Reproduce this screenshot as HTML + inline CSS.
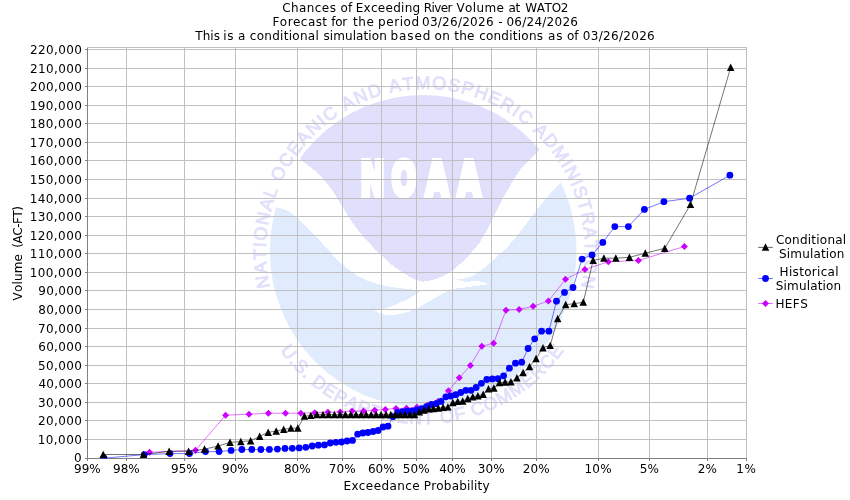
<!DOCTYPE html>
<html lang="en"><head><meta charset="utf-8"><title>Chances of Exceeding River Volume at WATO2</title>
<style>html,body{margin:0;padding:0;background:#fff}svg{display:block}text{font-family:"DejaVu Sans","Liberation Sans",sans-serif;font-kerning:none}</style></head><body>
<svg width="850" height="500" viewBox="0 0 850 500">
<rect width="850" height="500" fill="#fff"/>
<g id="watermark">
<clipPath id="disc"><ellipse cx="423.2" cy="251.0" rx="153.3" ry="156.0" shape-rendering="crispEdges"/></clipPath>
<g clip-path="url(#disc)" shape-rendering="crispEdges">
<path d="M260,206L420,206L420,181L590,181L590,420L260,420Z" fill="#e0ecfe"/>
<path d="M262,203.5C264.2,204.1 270.7,205.8 275.0,207.0C279.3,208.2 284.2,209.0 288.0,211.0C291.8,213.0 294.0,215.5 298.0,219.0C302.0,222.5 308.0,228.0 312.0,232.0C316.0,236.0 318.7,239.3 322.0,243.0C325.3,246.7 328.7,250.5 332.0,254.0C335.3,257.5 338.7,261.0 342.0,264.0C345.3,267.0 348.7,269.7 352.0,272.0C355.3,274.3 358.3,276.2 362.0,278.0C365.7,279.8 369.0,281.5 374.0,283.0C379.0,284.5 385.7,285.9 392.0,287.0C398.3,288.1 407.2,288.8 412.0,289.5C416.8,290.2 419.5,290.8 421.0,291.0C419.0,292.2 414.2,295.8 409.0,298.4C403.8,301.0 395.8,304.6 390.0,306.8C384.2,309.0 377.0,310.6 374.4,311.3C377.0,311.9 384.2,315.1 390.0,315.2C395.8,315.2 403.0,313.6 409.0,311.6C415.0,309.6 420.4,306.2 426.0,303.2C431.6,300.2 438.4,295.9 442.8,293.6C447.2,291.3 448.8,290.2 452.4,289.2C456.0,288.2 458.4,288.4 464.4,287.6C470.4,286.8 484.4,284.8 488.4,284.2C486.8,283.7 482.8,281.6 478.8,281.2C474.8,280.8 468.8,282.1 464.4,281.6C460.0,281.1 454.4,278.6 452.4,278.0C453.8,278.2 457.8,279.3 461.0,279.0C464.2,278.7 467.8,278.2 471.6,276.4C475.4,274.6 480.5,270.6 483.6,268.4C486.7,266.2 487.3,265.4 490.0,263.0C492.7,260.6 496.7,257.2 500.0,254.0C503.3,250.8 506.7,247.7 510.0,244.0C513.3,240.3 516.7,236.2 520.0,232.0C523.3,227.8 526.7,223.3 530.0,219.0C533.3,214.7 536.7,210.2 540.0,206.0C543.3,201.8 546.4,198.0 550.0,194.0C553.6,190.0 557.6,186.2 561.6,182.0C565.6,177.8 571.9,171.2 574.0,169.0L600,80L250,80Z" fill="#fff"/>
<path d="M548,140C546.1,142.2 541.2,148.0 536.5,153.0C531.8,158.0 524.4,164.5 520.0,170.0C515.6,175.5 513.3,180.3 510.0,186.0C506.7,191.7 503.3,197.7 500.0,204.0C496.7,210.3 493.3,217.7 490.0,224.0C486.7,230.3 483.3,237.0 480.0,242.0C476.7,247.0 473.3,250.3 470.0,254.0C466.7,257.7 463.0,261.2 460.0,264.0C457.0,266.8 454.8,269.0 452.0,271.0C449.2,273.0 446.3,274.5 443.0,276.0C439.7,277.5 435.5,279.1 432.0,280.0C428.5,280.9 425.3,281.8 422.0,281.5C418.7,281.2 415.3,279.6 412.0,278.0C408.7,276.4 405.3,274.2 402.0,272.0C398.7,269.8 395.3,267.7 392.0,265.0C388.7,262.3 385.3,259.2 382.0,256.0C378.7,252.8 375.3,249.5 372.0,246.0C368.7,242.5 365.3,239.0 362.0,235.0C358.7,231.0 355.3,226.8 352.0,222.0C348.7,217.2 345.3,211.3 342.0,206.0C338.7,200.7 335.9,195.3 332.0,190.0C328.1,184.7 324.1,179.3 318.5,174.0C312.9,168.7 303.9,162.2 298.6,158.0C293.4,153.8 288.9,150.5 287.0,149.0L270,80L570,80Z" fill="#e0e0fc"/>
</g>
<text transform="translate(0,194.9) scale(0.61,1)" x="610.8 662.3 716.4 768.9" text-anchor="middle" font-weight="bold" font-size="47" fill="#fff" stroke="#fff" stroke-width="5" stroke-linejoin="miter" vector-effect="non-scaling-stroke">NOAA</text>
<defs><path id="arcTop" d="M425.5,413.5A159.5,162.3 0 1 1 425.5,88.89999999999998A159.5,162.3 0 1 1 425.5,413.5"/>
<path id="arcBot" d="M422.0,77.80000000000001A173.2,173.2 0 1 0 422.0,424.2A173.2,173.2 0 1 0 422.0,77.80000000000001"/></defs>
<text font-family="Liberation Sans, sans-serif" font-size="18" fill="#e0e0fc" stroke="#e0e0fc" stroke-width="0.85" text-anchor="middle" style="font-family:'Liberation Sans',sans-serif"><textPath href="#arcTop" startOffset="50%" textLength="578" lengthAdjust="spacing">NATIONAL OCEANIC AND ATMOSPHERIC ADMINISTRATION</textPath></text>
<text font-family="Liberation Sans, sans-serif" font-size="18" fill="#e0e0fc" stroke="#e0e0fc" stroke-width="0.85" text-anchor="middle" style="font-family:'Liberation Sans',sans-serif"><textPath href="#arcBot" startOffset="50%" textLength="332" lengthAdjust="spacing">U.S. DEPARTMENT OF COMMERCE</textPath></text>
</g>
<g stroke="#c0c0c0" stroke-width="1" shape-rendering="crispEdges">
<line x1="87.5" x2="746.5" y1="458.5" y2="458.5"/>
<line x1="87.5" x2="746.5" y1="439.5" y2="439.5"/>
<line x1="87.5" x2="746.5" y1="420.5" y2="420.5"/>
<line x1="87.5" x2="746.5" y1="402.5" y2="402.5"/>
<line x1="87.5" x2="746.5" y1="383.5" y2="383.5"/>
<line x1="87.5" x2="746.5" y1="365.5" y2="365.5"/>
<line x1="87.5" x2="746.5" y1="346.5" y2="346.5"/>
<line x1="87.5" x2="746.5" y1="328.5" y2="328.5"/>
<line x1="87.5" x2="746.5" y1="309.5" y2="309.5"/>
<line x1="87.5" x2="746.5" y1="290.5" y2="290.5"/>
<line x1="87.5" x2="746.5" y1="272.5" y2="272.5"/>
<line x1="87.5" x2="746.5" y1="253.5" y2="253.5"/>
<line x1="87.5" x2="746.5" y1="235.5" y2="235.5"/>
<line x1="87.5" x2="746.5" y1="216.5" y2="216.5"/>
<line x1="87.5" x2="746.5" y1="198.5" y2="198.5"/>
<line x1="87.5" x2="746.5" y1="179.5" y2="179.5"/>
<line x1="87.5" x2="746.5" y1="160.5" y2="160.5"/>
<line x1="87.5" x2="746.5" y1="142.5" y2="142.5"/>
<line x1="87.5" x2="746.5" y1="123.5" y2="123.5"/>
<line x1="87.5" x2="746.5" y1="105.5" y2="105.5"/>
<line x1="87.5" x2="746.5" y1="86.5" y2="86.5"/>
<line x1="87.5" x2="746.5" y1="68.5" y2="68.5"/>
<line x1="87.5" x2="746.5" y1="49.5" y2="49.5"/>
<line x1="87.5" x2="87.5" y1="47.5" y2="458.5"/>
<line x1="126.5" x2="126.5" y1="47.5" y2="458.5"/>
<line x1="184.5" x2="184.5" y1="47.5" y2="458.5"/>
<line x1="235.5" x2="235.5" y1="47.5" y2="458.5"/>
<line x1="297.5" x2="297.5" y1="47.5" y2="458.5"/>
<line x1="342.5" x2="342.5" y1="47.5" y2="458.5"/>
<line x1="381.5" x2="381.5" y1="47.5" y2="458.5"/>
<line x1="416.5" x2="416.5" y1="47.5" y2="458.5"/>
<line x1="452.5" x2="452.5" y1="47.5" y2="458.5"/>
<line x1="491.5" x2="491.5" y1="47.5" y2="458.5"/>
<line x1="536.5" x2="536.5" y1="47.5" y2="458.5"/>
<line x1="598.5" x2="598.5" y1="47.5" y2="458.5"/>
<line x1="649.5" x2="649.5" y1="47.5" y2="458.5"/>
<line x1="707.5" x2="707.5" y1="47.5" y2="458.5"/>
<line x1="746.5" x2="746.5" y1="47.5" y2="458.5"/>
</g>
<rect x="87.5" y="47.5" width="659.0" height="411.0" fill="none" stroke="#c0c0c0" stroke-width="1" shape-rendering="crispEdges"/>
<g stroke="#808080" stroke-width="1" shape-rendering="crispEdges">
<line x1="87.5" x2="87.5" y1="47.5" y2="458.5"/><line x1="87.5" x2="746.5" y1="458.5" y2="458.5"/>
<line x1="85.0" x2="87.5" y1="458.5" y2="458.5"/>
<line x1="85.0" x2="87.5" y1="439.5" y2="439.5"/>
<line x1="85.0" x2="87.5" y1="420.5" y2="420.5"/>
<line x1="85.0" x2="87.5" y1="402.5" y2="402.5"/>
<line x1="85.0" x2="87.5" y1="383.5" y2="383.5"/>
<line x1="85.0" x2="87.5" y1="365.5" y2="365.5"/>
<line x1="85.0" x2="87.5" y1="346.5" y2="346.5"/>
<line x1="85.0" x2="87.5" y1="328.5" y2="328.5"/>
<line x1="85.0" x2="87.5" y1="309.5" y2="309.5"/>
<line x1="85.0" x2="87.5" y1="290.5" y2="290.5"/>
<line x1="85.0" x2="87.5" y1="272.5" y2="272.5"/>
<line x1="85.0" x2="87.5" y1="253.5" y2="253.5"/>
<line x1="85.0" x2="87.5" y1="235.5" y2="235.5"/>
<line x1="85.0" x2="87.5" y1="216.5" y2="216.5"/>
<line x1="85.0" x2="87.5" y1="198.5" y2="198.5"/>
<line x1="85.0" x2="87.5" y1="179.5" y2="179.5"/>
<line x1="85.0" x2="87.5" y1="160.5" y2="160.5"/>
<line x1="85.0" x2="87.5" y1="142.5" y2="142.5"/>
<line x1="85.0" x2="87.5" y1="123.5" y2="123.5"/>
<line x1="85.0" x2="87.5" y1="105.5" y2="105.5"/>
<line x1="85.0" x2="87.5" y1="86.5" y2="86.5"/>
<line x1="85.0" x2="87.5" y1="68.5" y2="68.5"/>
<line x1="85.0" x2="87.5" y1="49.5" y2="49.5"/>
<line x1="87.5" x2="87.5" y1="458.5" y2="460.5"/>
<line x1="126.5" x2="126.5" y1="458.5" y2="460.5"/>
<line x1="184.5" x2="184.5" y1="458.5" y2="460.5"/>
<line x1="235.5" x2="235.5" y1="458.5" y2="460.5"/>
<line x1="297.5" x2="297.5" y1="458.5" y2="460.5"/>
<line x1="342.5" x2="342.5" y1="458.5" y2="460.5"/>
<line x1="381.5" x2="381.5" y1="458.5" y2="460.5"/>
<line x1="416.5" x2="416.5" y1="458.5" y2="460.5"/>
<line x1="452.5" x2="452.5" y1="458.5" y2="460.5"/>
<line x1="491.5" x2="491.5" y1="458.5" y2="460.5"/>
<line x1="536.5" x2="536.5" y1="458.5" y2="460.5"/>
<line x1="598.5" x2="598.5" y1="458.5" y2="460.5"/>
<line x1="649.5" x2="649.5" y1="458.5" y2="460.5"/>
<line x1="707.5" x2="707.5" y1="458.5" y2="460.5"/>
<line x1="746.5" x2="746.5" y1="458.5" y2="460.5"/>
</g>
<g font-size="12" fill="#000">
<text x="73.91" y="462.3" letter-spacing="0.453">0</text>
<text x="37.68" y="443.8" letter-spacing="0.445">10,000</text>
<text x="38.12" y="424.8" letter-spacing="0.358">20,000</text>
<text x="38.09" y="406.8" letter-spacing="0.365">30,000</text>
<text x="38.41" y="387.8" letter-spacing="0.299">40,000</text>
<text x="38.07" y="369.8" letter-spacing="0.367">50,000</text>
<text x="38.16" y="350.8" letter-spacing="0.349">60,000</text>
<text x="38.02" y="332.8" letter-spacing="0.379">70,000</text>
<text x="38.19" y="313.8" letter-spacing="0.345">80,000</text>
<text x="38.24" y="294.8" letter-spacing="0.333">90,000</text>
<text x="29.68" y="276.8" letter-spacing="0.432">100,000</text>
<text x="29.68" y="257.8" letter-spacing="0.432">110,000</text>
<text x="29.68" y="239.8" letter-spacing="0.432">120,000</text>
<text x="29.68" y="220.8" letter-spacing="0.432">130,000</text>
<text x="29.68" y="202.8" letter-spacing="0.432">140,000</text>
<text x="29.68" y="183.8" letter-spacing="0.432">150,000</text>
<text x="29.68" y="164.8" letter-spacing="0.432">160,000</text>
<text x="29.68" y="146.8" letter-spacing="0.432">170,000</text>
<text x="29.68" y="127.8" letter-spacing="0.432">180,000</text>
<text x="29.68" y="109.8" letter-spacing="0.432">190,000</text>
<text x="30.12" y="90.8" letter-spacing="0.359">200,000</text>
<text x="30.12" y="72.8" letter-spacing="0.359">210,000</text>
<text x="30.12" y="53.8" letter-spacing="0.359">220,000</text>
<text x="73.99" y="473.1" letter-spacing="0.023">99%</text>
<text x="112.99" y="473.1" letter-spacing="0.023">98%</text>
<text x="170.99" y="473.1" letter-spacing="0.023">95%</text>
<text x="221.99" y="473.1" letter-spacing="0.023">90%</text>
<text x="283.94" y="473.1" letter-spacing="0.052">80%</text>
<text x="328.77" y="473.1" letter-spacing="0.137">70%</text>
<text x="367.91" y="473.1" letter-spacing="0.064">60%</text>
<text x="402.82" y="473.1" letter-spacing="0.108">50%</text>
<text x="439.16" y="473.1" letter-spacing="-0.062">40%</text>
<text x="477.84" y="473.1" letter-spacing="0.102">30%</text>
<text x="522.87" y="473.1" letter-spacing="0.085">20%</text>
<text x="584.43" y="473.1" letter-spacing="0.304">10%</text>
<text x="639.67" y="473.1" letter-spacing="0.151">5%</text>
<text x="697.72" y="473.1" letter-spacing="0.104">2%</text>
<text x="736.28" y="473.1" letter-spacing="0.543">1%</text>
<text y="11.6"><tspan x="282.13" letter-spacing="0.431">Chances</tspan> <tspan x="340.54" letter-spacing="0.067">of</tspan> <tspan x="355.72" letter-spacing="0.281">Exceeding</tspan> <tspan x="423.72" letter-spacing="-0.603">River</tspan> <tspan x="456.51" letter-spacing="0.354">Volume</tspan> <tspan x="508.38" letter-spacing="-0.151">at</tspan> <tspan x="525.20" letter-spacing="-0.321">WATO2</tspan></text>
<text y="25.6"><tspan x="272.52" letter-spacing="0.442">Forecast</tspan> <tspan x="331.32" letter-spacing="-0.312">for</tspan> <tspan x="353.08" letter-spacing="0.534">the</tspan> <tspan x="378.11" letter-spacing="0.551">period</tspan> <tspan x="422.01" letter-spacing="0.265">03/26/2026</tspan> <tspan x="498.31" letter-spacing="1.142">-</tspan> <tspan x="506.41" letter-spacing="0.265">06/24/2026</tspan></text>
<text y="39.6"><tspan x="195.34" letter-spacing="0.010">This</tspan> <tspan x="223.27" letter-spacing="0.631">is</tspan> <tspan x="238.08" letter-spacing="0.857">a</tspan> <tspan x="249.84" letter-spacing="0.272">conditional</tspan> <tspan x="323.45" letter-spacing="0.091">simulation</tspan> <tspan x="390.61" letter-spacing="0.864">based</tspan> <tspan x="434.44" letter-spacing="0.434">on</tspan> <tspan x="454.28" letter-spacing="0.234">the</tspan> <tspan x="479.14" letter-spacing="0.235">conditions</tspan> <tspan x="548.08" letter-spacing="0.701">as</tspan> <tspan x="567.04" letter-spacing="-0.033">of</tspan> <tspan x="582.81" letter-spacing="0.309">03/26/2026</tspan></text>
<text y="489.6"><tspan x="343.42" letter-spacing="0.390">Exceedance</tspan> <tspan x="423.82" letter-spacing="0.183">Probability</tspan></text>
<text transform="rotate(-90)" y="21.9"><tspan x="-300.39" letter-spacing="0.154">Volume</tspan> <tspan x="-247.63" letter-spacing="-0.475">(AC-FT)</tspan></text>
</g>
<clipPath id="pc"><rect x="87.5" y="47.5" width="659.0" height="411.0"/></clipPath>
<g clip-path="url(#pc)">
<polyline fill="none" stroke="#cc00ff" stroke-width="0.55" points="149.5,452.3 195.5,450.2 225.6,415.2 249.0,414.2 268.4,413.2 285.5,413.2 300.8,413.2 314.8,412.8 327.9,412.2 340.3,412.1 352.1,411.1 363.5,411.1 374.6,410.2 385.4,409.4 396.0,408.4 406.5,408.3 416.9,407.2 427.4,405.3 437.9,401.5 448.5,390.8 459.3,377.8 470.4,365.4 481.8,346.2 493.6,343.2 506.0,310.2 519.1,309.5 533.1,306.3 548.4,301.0 565.5,279.3 584.9,269.4 608.3,261.8 638.4,260.5 684.4,246.5"/>
<g fill="#cc00ff"><path d="M149.5,448.8L153.0,452.3L149.5,455.8L146.0,452.3Z"/><path d="M195.5,446.7L199.0,450.2L195.5,453.7L192.0,450.2Z"/><path d="M225.6,411.7L229.1,415.2L225.6,418.7L222.1,415.2Z"/><path d="M249.0,410.7L252.5,414.2L249.0,417.7L245.5,414.2Z"/><path d="M268.4,409.7L271.9,413.2L268.4,416.7L264.9,413.2Z"/><path d="M285.5,409.7L289.0,413.2L285.5,416.7L282.0,413.2Z"/><path d="M300.8,409.7L304.3,413.2L300.8,416.7L297.3,413.2Z"/><path d="M314.8,409.3L318.3,412.8L314.8,416.3L311.3,412.8Z"/><path d="M327.9,408.7L331.4,412.2L327.9,415.7L324.4,412.2Z"/><path d="M340.3,408.6L343.8,412.1L340.3,415.6L336.8,412.1Z"/><path d="M352.1,407.6L355.6,411.1L352.1,414.6L348.6,411.1Z"/><path d="M363.5,407.6L367.0,411.1L363.5,414.6L360.0,411.1Z"/><path d="M374.6,406.7L378.1,410.2L374.6,413.7L371.1,410.2Z"/><path d="M385.4,405.9L388.9,409.4L385.4,412.9L381.9,409.4Z"/><path d="M396.0,404.9L399.5,408.4L396.0,411.9L392.5,408.4Z"/><path d="M406.5,404.8L410.0,408.3L406.5,411.8L403.0,408.3Z"/><path d="M416.9,403.7L420.4,407.2L416.9,410.7L413.4,407.2Z"/><path d="M427.4,401.8L430.9,405.3L427.4,408.8L423.9,405.3Z"/><path d="M437.9,398.0L441.4,401.5L437.9,405.0L434.4,401.5Z"/><path d="M448.5,387.3L452.0,390.8L448.5,394.3L445.0,390.8Z"/><path d="M459.3,374.3L462.8,377.8L459.3,381.3L455.8,377.8Z"/><path d="M470.4,361.9L473.9,365.4L470.4,368.9L466.9,365.4Z"/><path d="M481.8,342.7L485.3,346.2L481.8,349.7L478.3,346.2Z"/><path d="M493.6,339.7L497.1,343.2L493.6,346.7L490.1,343.2Z"/><path d="M506.0,306.7L509.5,310.2L506.0,313.7L502.5,310.2Z"/><path d="M519.1,306.0L522.6,309.5L519.1,313.0L515.6,309.5Z"/><path d="M533.1,302.8L536.6,306.3L533.1,309.8L529.6,306.3Z"/><path d="M548.4,297.5L551.9,301.0L548.4,304.5L544.9,301.0Z"/><path d="M565.5,275.8L569.0,279.3L565.5,282.8L562.0,279.3Z"/><path d="M584.9,265.9L588.4,269.4L584.9,272.9L581.4,269.4Z"/><path d="M608.3,258.3L611.8,261.8L608.3,265.3L604.8,261.8Z"/><path d="M638.4,257.0L641.9,260.5L638.4,264.0L634.9,260.5Z"/><path d="M684.4,243.0L687.9,246.5L684.4,250.0L680.9,246.5Z"/></g>
<polyline fill="none" stroke="#0000ff" stroke-width="0.55" points="104.0,458.2 144.3,454.6 170.0,453.6 189.5,453.5 205.5,451.6 219.1,451.6 231.1,450.4 241.9,449.5 251.8,449.5 260.9,449.5 269.4,449.4 277.4,449.1 285.0,448.4 292.3,448.3 299.2,447.9 305.8,447.3 312.2,446.0 318.4,445.2 324.5,444.9 330.3,443.0 336.0,442.3 341.6,442.0 347.1,441.0 352.5,440.4 357.7,434.2 362.9,433.0 368.0,432.5 373.1,431.5 378.1,430.5 383.1,427.0 388.0,426.2 392.9,416.7 397.7,412.3 402.5,411.6 407.4,411.2 412.2,410.8 416.9,410.0 421.7,408.6 426.5,406.6 431.4,404.5 436.2,403.7 441.0,401.4 445.9,396.8 450.8,396.0 455.8,394.7 460.8,392.5 465.9,390.3 471.0,390.3 476.2,387.5 481.4,383.3 486.8,379.5 492.3,378.9 497.9,378.7 503.6,375.8 509.4,368.2 515.5,363.2 521.7,362.2 528.1,348.5 534.7,338.8 541.6,331.2 548.9,331.2 556.5,301.2 564.5,292.4 573.0,287.5 582.1,259.1 592.0,255.0 602.8,242.4 614.8,226.6 628.4,226.6 644.4,209.4 663.9,201.7 689.6,198.2 729.9,175.2"/>
<g fill="#0000ff"><circle cx="104.0" cy="458.2" r="3.4"/><circle cx="144.3" cy="454.6" r="3.4"/><circle cx="170.0" cy="453.6" r="3.4"/><circle cx="189.5" cy="453.5" r="3.4"/><circle cx="205.5" cy="451.6" r="3.4"/><circle cx="219.1" cy="451.6" r="3.4"/><circle cx="231.1" cy="450.4" r="3.4"/><circle cx="241.9" cy="449.5" r="3.4"/><circle cx="251.8" cy="449.5" r="3.4"/><circle cx="260.9" cy="449.5" r="3.4"/><circle cx="269.4" cy="449.4" r="3.4"/><circle cx="277.4" cy="449.1" r="3.4"/><circle cx="285.0" cy="448.4" r="3.4"/><circle cx="292.3" cy="448.3" r="3.4"/><circle cx="299.2" cy="447.9" r="3.4"/><circle cx="305.8" cy="447.3" r="3.4"/><circle cx="312.2" cy="446.0" r="3.4"/><circle cx="318.4" cy="445.2" r="3.4"/><circle cx="324.5" cy="444.9" r="3.4"/><circle cx="330.3" cy="443.0" r="3.4"/><circle cx="336.0" cy="442.3" r="3.4"/><circle cx="341.6" cy="442.0" r="3.4"/><circle cx="347.1" cy="441.0" r="3.4"/><circle cx="352.5" cy="440.4" r="3.4"/><circle cx="357.7" cy="434.2" r="3.4"/><circle cx="362.9" cy="433.0" r="3.4"/><circle cx="368.0" cy="432.5" r="3.4"/><circle cx="373.1" cy="431.5" r="3.4"/><circle cx="378.1" cy="430.5" r="3.4"/><circle cx="383.1" cy="427.0" r="3.4"/><circle cx="388.0" cy="426.2" r="3.4"/><circle cx="392.9" cy="416.7" r="3.4"/><circle cx="397.7" cy="412.3" r="3.4"/><circle cx="402.5" cy="411.6" r="3.4"/><circle cx="407.4" cy="411.2" r="3.4"/><circle cx="412.2" cy="410.8" r="3.4"/><circle cx="416.9" cy="410.0" r="3.4"/><circle cx="421.7" cy="408.6" r="3.4"/><circle cx="426.5" cy="406.6" r="3.4"/><circle cx="431.4" cy="404.5" r="3.4"/><circle cx="436.2" cy="403.7" r="3.4"/><circle cx="441.0" cy="401.4" r="3.4"/><circle cx="445.9" cy="396.8" r="3.4"/><circle cx="450.8" cy="396.0" r="3.4"/><circle cx="455.8" cy="394.7" r="3.4"/><circle cx="460.8" cy="392.5" r="3.4"/><circle cx="465.9" cy="390.3" r="3.4"/><circle cx="471.0" cy="390.3" r="3.4"/><circle cx="476.2" cy="387.5" r="3.4"/><circle cx="481.4" cy="383.3" r="3.4"/><circle cx="486.8" cy="379.5" r="3.4"/><circle cx="492.3" cy="378.9" r="3.4"/><circle cx="497.9" cy="378.7" r="3.4"/><circle cx="503.6" cy="375.8" r="3.4"/><circle cx="509.4" cy="368.2" r="3.4"/><circle cx="515.5" cy="363.2" r="3.4"/><circle cx="521.7" cy="362.2" r="3.4"/><circle cx="528.1" cy="348.5" r="3.4"/><circle cx="534.7" cy="338.8" r="3.4"/><circle cx="541.6" cy="331.2" r="3.4"/><circle cx="548.9" cy="331.2" r="3.4"/><circle cx="556.5" cy="301.2" r="3.4"/><circle cx="564.5" cy="292.4" r="3.4"/><circle cx="573.0" cy="287.5" r="3.4"/><circle cx="582.1" cy="259.1" r="3.4"/><circle cx="592.0" cy="255.0" r="3.4"/><circle cx="602.8" cy="242.4" r="3.4"/><circle cx="614.8" cy="226.6" r="3.4"/><circle cx="628.4" cy="226.6" r="3.4"/><circle cx="644.4" cy="209.4" r="3.4"/><circle cx="663.9" cy="201.7" r="3.4"/><circle cx="689.6" cy="198.2" r="3.4"/><circle cx="729.9" cy="175.2" r="3.4"/></g>
<polyline fill="none" stroke="#000000" stroke-width="0.55" points="103.2,454.5 143.4,454.5 169.1,451.3 188.6,451.3 204.5,449.2 218.1,446.0 230.0,442.4 240.8,441.6 250.6,440.8 259.7,436.3 268.2,432.3 276.2,431.1 283.7,429.3 290.9,428.2 297.8,428.2 304.4,416.2 310.8,415.5 317.0,414.7 323.0,414.6 328.8,414.6 334.4,414.6 340.0,414.6 345.4,414.6 350.7,414.6 356.0,414.6 361.1,414.6 366.2,414.6 371.2,414.6 376.2,414.6 381.1,414.6 386.0,414.6 390.8,414.6 395.6,414.6 400.4,414.6 405.1,414.6 409.9,414.6 414.6,414.6 419.3,411.9 424.0,410.2 428.8,408.9 433.5,408.6 438.3,408.2 443.1,407.3 447.9,407.0 452.8,402.6 457.7,401.5 462.7,401.1 467.7,398.7 472.8,396.8 477.9,395.9 483.2,394.3 488.5,388.8 493.9,388.2 499.5,382.6 505.1,382.2 510.9,381.8 516.9,377.8 523.1,372.6 529.5,366.6 536.1,358.6 543.0,347.8 550.2,345.5 557.7,318.6 565.7,304.7 574.2,303.7 583.3,302.2 593.1,260.4 603.9,258.2 615.8,258.2 629.4,257.3 645.3,253.2 664.8,248.3 690.5,204.5 730.7,67.4"/>
<g fill="#000000"><path d="M103.2,450.65L106.97,458.10L99.47,458.10Z"/><path d="M143.4,450.65L147.20,458.10L139.70,458.10Z"/><path d="M169.1,447.45L172.89,454.90L165.39,454.90Z"/><path d="M188.6,447.45L192.33,454.90L184.83,454.90Z"/><path d="M204.5,445.35L208.22,452.80L200.72,452.80Z"/><path d="M218.1,442.15L221.81,449.60L214.31,449.60Z"/><path d="M230.0,438.55L233.78,446.00L226.28,446.00Z"/><path d="M240.8,437.75L244.55,445.20L237.05,445.20Z"/><path d="M250.6,436.95L254.38,444.40L246.88,444.40Z"/><path d="M259.7,432.45L263.47,439.90L255.97,439.90Z"/><path d="M268.2,428.45L271.95,435.90L264.45,435.90Z"/><path d="M276.2,427.25L279.93,434.70L272.43,434.70Z"/><path d="M283.7,425.45L287.49,432.90L279.99,432.90Z"/><path d="M290.9,424.35L294.69,431.80L287.19,431.80Z"/><path d="M297.8,424.35L301.57,431.80L294.07,431.80Z"/><path d="M304.4,412.35L308.18,419.80L300.68,419.80Z"/><path d="M310.8,411.65L314.56,419.10L307.06,419.10Z"/><path d="M317.0,410.85L320.72,418.30L313.22,418.30Z"/><path d="M323.0,410.75L326.71,418.20L319.21,418.20Z"/><path d="M328.8,410.75L332.52,418.20L325.02,418.20Z"/><path d="M334.4,410.75L338.20,418.20L330.70,418.20Z"/><path d="M340.0,410.75L343.74,418.20L336.24,418.20Z"/><path d="M345.4,410.75L349.17,418.20L341.67,418.20Z"/><path d="M350.7,410.75L354.50,418.20L347.00,418.20Z"/><path d="M356.0,410.75L359.73,418.20L352.23,418.20Z"/><path d="M361.1,410.75L364.88,418.20L357.38,418.20Z"/><path d="M366.2,410.75L369.96,418.20L362.46,418.20Z"/><path d="M371.2,410.75L374.97,418.20L367.47,418.20Z"/><path d="M376.2,410.75L379.93,418.20L372.43,418.20Z"/><path d="M381.1,410.75L384.84,418.20L377.34,418.20Z"/><path d="M386.0,410.75L389.70,418.20L382.20,418.20Z"/><path d="M390.8,410.75L394.53,418.20L387.03,418.20Z"/><path d="M395.6,410.75L399.33,418.20L391.83,418.20Z"/><path d="M400.4,410.75L404.10,418.20L396.60,418.20Z"/><path d="M405.1,410.75L408.86,418.20L401.36,418.20Z"/><path d="M409.9,410.75L413.60,418.20L406.10,418.20Z"/><path d="M414.6,410.75L418.33,418.20L410.83,418.20Z"/><path d="M419.3,408.05L423.07,415.50L415.57,415.50Z"/><path d="M424.0,406.35L427.80,413.80L420.30,413.80Z"/><path d="M428.8,405.05L432.54,412.50L425.04,412.50Z"/><path d="M433.5,404.75L437.30,412.20L429.80,412.20Z"/><path d="M438.3,404.35L442.07,411.80L434.57,411.80Z"/><path d="M443.1,403.45L446.87,410.90L439.37,410.90Z"/><path d="M447.9,403.15L451.70,410.60L444.20,410.60Z"/><path d="M452.8,398.75L456.56,406.20L449.06,406.20Z"/><path d="M457.7,397.65L461.47,405.10L453.97,405.10Z"/><path d="M462.7,397.25L466.43,404.70L458.93,404.70Z"/><path d="M467.7,394.85L471.44,402.30L463.94,402.30Z"/><path d="M472.8,392.95L476.52,400.40L469.02,400.40Z"/><path d="M477.9,392.05L481.67,399.50L474.17,399.50Z"/><path d="M483.2,390.45L486.90,397.90L479.40,397.90Z"/><path d="M488.5,384.95L492.23,392.40L484.73,392.40Z"/><path d="M493.9,384.35L497.66,391.80L490.16,391.80Z"/><path d="M499.5,378.75L503.20,386.20L495.70,386.20Z"/><path d="M505.1,378.35L508.88,385.80L501.38,385.80Z"/><path d="M510.9,377.95L514.69,385.40L507.19,385.40Z"/><path d="M516.9,373.95L520.68,381.40L513.18,381.40Z"/><path d="M523.1,368.75L526.84,376.20L519.34,376.20Z"/><path d="M529.5,362.75L533.22,370.20L525.72,370.20Z"/><path d="M536.1,354.75L539.83,362.20L532.33,362.20Z"/><path d="M543.0,343.95L546.71,351.40L539.21,351.40Z"/><path d="M550.2,341.65L553.91,349.10L546.41,349.10Z"/><path d="M557.7,314.75L561.47,322.20L553.97,322.20Z"/><path d="M565.7,300.85L569.45,308.30L561.95,308.30Z"/><path d="M574.2,299.85L577.93,307.30L570.43,307.30Z"/><path d="M583.3,298.35L587.02,305.80L579.52,305.80Z"/><path d="M593.1,256.55L596.85,264.00L589.35,264.00Z"/><path d="M603.9,254.35L607.62,261.80L600.12,261.80Z"/><path d="M615.8,254.35L619.59,261.80L612.09,261.80Z"/><path d="M629.4,253.45L633.18,260.90L625.68,260.90Z"/><path d="M645.3,249.35L649.07,256.80L641.57,256.80Z"/><path d="M664.8,244.45L668.51,251.90L661.01,251.90Z"/><path d="M690.5,200.65L694.20,208.10L686.70,208.10Z"/><path d="M730.7,63.55L734.43,71.00L726.93,71.00Z"/></g>
</g>
<line x1="758.2" x2="772.8" y1="247.4" y2="247.4" stroke="#000000" stroke-width="0.6"/>
<line x1="758.2" x2="772.8" y1="278.5" y2="278.5" stroke="#0000ff" stroke-width="0.6"/>
<line x1="758.2" x2="772.8" y1="303.5" y2="303.5" stroke="#cc00ff" stroke-width="0.6"/>
<g fill="#000000"><path d="M765.5,243.35L769.25,250.80L761.75,250.80Z"/></g><circle cx="765.5" cy="278.5" r="3.4" fill="#0000ff"/><g fill="#cc00ff"><path d="M765.5,300.0L769.0,303.5L765.5,307.0L762.0,303.5Z"/></g>
<g font-size="12" fill="#000">
<text><tspan x="775.93" y="244.2" letter-spacing="0.225">Conditional</tspan> <tspan x="779.11" y="258.4" letter-spacing="0.143">Simulation</tspan></text>
<text><tspan x="779.62" y="276.4" letter-spacing="0.310">Historical</tspan> <tspan x="775.81" y="290.2" letter-spacing="0.166">Simulation</tspan></text>
<text x="775.42" y="307.6" letter-spacing="0.407">HEFS</text>
</g>
</svg></body></html>
